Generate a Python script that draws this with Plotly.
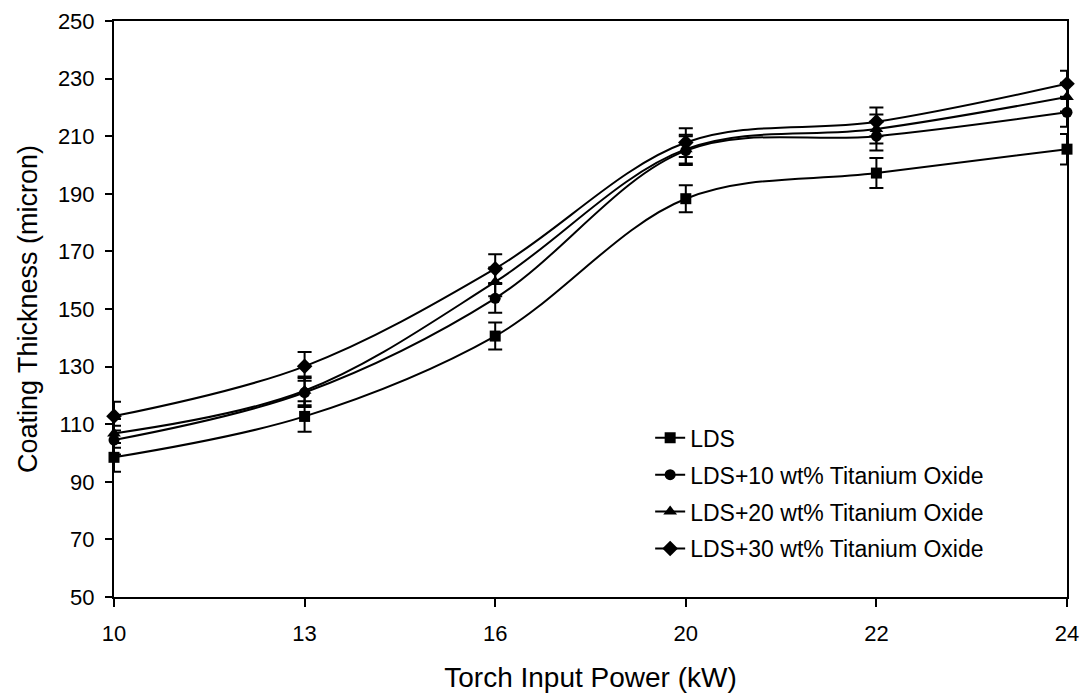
import plotly.graph_objects as go

power = ["10", "13", "16", "20", "22", "24"]
lds = [98.5, 112.7, 140.6, 188.3, 197.2, 205.5]
lds10 = [104.5, 121.0, 153.7, 205.0, 210.0, 218.3]
lds20 = [106.8, 121.6, 159.4, 205.5, 212.5, 223.6]
lds30 = [112.8, 130.1, 164.0, 207.8, 215.0, 228.2]
err_lds = [5, 5.3, 4.7, 4.7, 5.2, 5.3]
err10 = [5, 5, 5, 5, 5, 5]
err20 = [5, 5, 5, 5, 5, 5]
err30 = [5, 5, 5, 5, 5, 4.5]

names = ["LDS", "LDS+10 wt% Titanium Oxide", "LDS+20 wt% Titanium Oxide", "LDS+30 wt% Titanium Oxide"]
series = [lds, lds10, lds20, lds30]
errors = [err_lds, err10, err20, err30]
symbols = ["square", "circle", "triangle-up", "diamond"]
sizes = [11, 11, 12, 12]

fig = go.Figure()
for i, (n, s, e, sym, sz) in enumerate(zip(names, series, errors, symbols, sizes)):
    fig.add_trace(go.Scatter(
        x=power, y=s, name=n, mode="lines+markers",
        line=dict(color="black", width=2, shape="spline", smoothing=1),
        marker=dict(symbol=sym, size=sz, color="black"),
        error_y=dict(type="data", array=e, visible=True, color="black", thickness=2, width=7),
        cliponaxis=False, legendgroup=f"g{i}",
    ))

fig.update_layout(
    width=1086, height=697,
    margin=dict(l=114, r=19, t=21, b=100),
    paper_bgcolor="white", plot_bgcolor="white",
    font=dict(family="Liberation Sans, Arial, sans-serif", color="black", size=22),
    showlegend=True,
    legend=dict(x=0.5626, y=0.18, xanchor="left", yanchor="middle",
                bgcolor="rgba(0,0,0,0)", font=dict(size=23), tracegroupgap=4),
    xaxis=dict(
        type="category", range=[0, 5], showgrid=False, zeroline=False,
        showline=True, linecolor="black", linewidth=2, mirror=True,
        ticks="outside", ticklen=8, tickwidth=2, tickcolor="black",
        tickfont=dict(size=22), ticklabelstandoff=8, automargin=False,
        title=dict(text="Torch Input Power (kW)", font=dict(size=28), standoff=22),
    ),
    yaxis=dict(
        range=[50, 250], dtick=20, tick0=50, showgrid=False, zeroline=False,
        showline=True, linecolor="black", linewidth=2, mirror=True,
        ticks="outside", ticklen=7, tickwidth=2, tickcolor="black",
        tickfont=dict(size=22), ticklabelstandoff=6, automargin=False,
        title=dict(text="Coating Thickness (micron)", font=dict(size=27), standoff=12),
    ),
)

fig.write_html("out.html")
